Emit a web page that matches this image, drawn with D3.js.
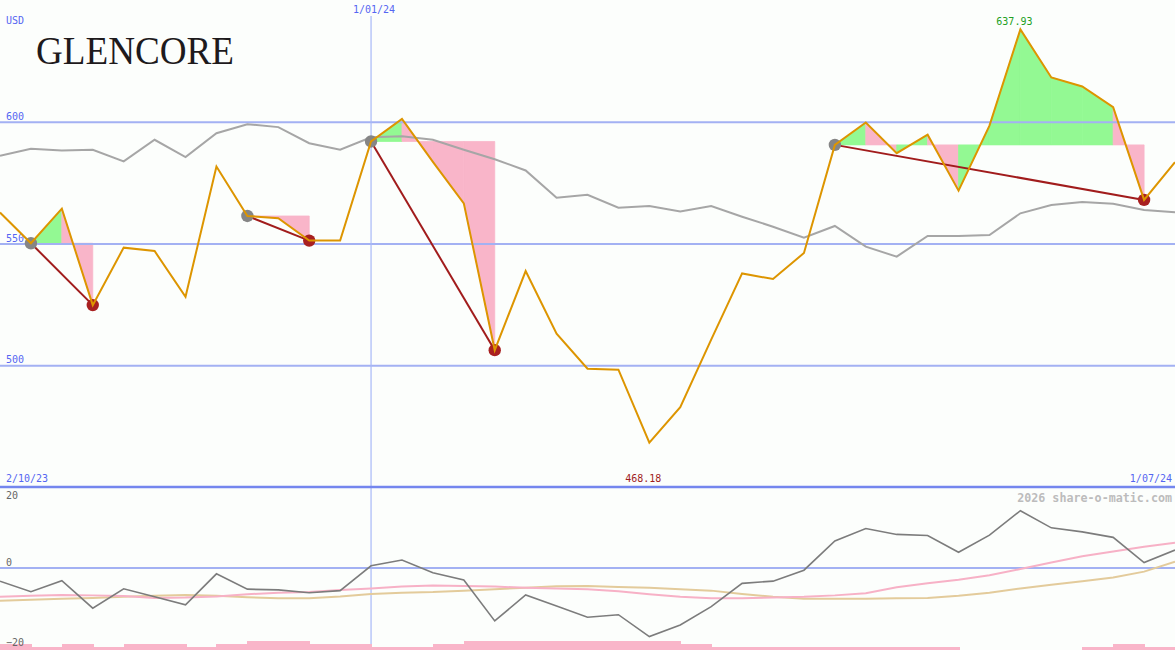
<!DOCTYPE html>
<html>
<head>
<meta charset="utf-8">
<script src="https://cdn.jsdelivr.net/npm/d3@7/dist/d3.min.js"></script>
<style>
  html, body { margin: 0; padding: 0; background: #fcfefc; }
  svg { display: block; }
</style>
</head>
<body>
<svg id="chart" width="1175" height="650"></svg>
<script>
// ---------- data ----------
const firstWeek = "2023-10-09";
const lastWeek = "2024-07-01";
const markerDate = "2024-01-01";
const markerLabel = "1/01/24";
const startLabel = "2/10/23";
const endLabel = "1/07/24";
const currency = "USD";
const company = "GLENCORE";
const watermark = "2026 share-o-matic.com";

const priceTicks = [600, 550, 500];
const oscTicks = [20, 0, -20];

// weekly close (orange)
const price = [562.7, 550.1, 564.3, 524.7, 548.3, 546.9, 528.1, 581.6, 561.3, 560.4,
               551.2, 551.2, 591.9, 601.2, 583.5, 566.5, 506.2, 538.7, 513.0, 498.6,
               498.2, 468.18, 482.8, 510.5, 537.7, 535.4, 546.1, 590.5, 599.7, 587.1,
               594.7, 571.7, 598.4, 637.93, 618.2, 614.5, 606.0, 567.9, 583.4];
// moving average (grey)
const average = [586.0, 588.9, 588.2, 588.5, 583.7, 592.6, 585.5, 595.3, 599.0, 597.8,
                 591.2, 588.5, 593.6, 594.0, 592.6, 588.5, 584.6, 580.0, 568.8, 570.0,
                 564.7, 565.4, 563.1, 565.4, 561.0, 556.9, 552.4, 557.2, 548.7, 544.6,
                 553.1, 553.1, 553.5, 562.4, 565.8, 567.0, 566.3, 563.8, 562.8];
// signal segments (start index, end index)
const signalStart = [1, 8, 12, 27];
const signalEnd = [3, 10, 16, 37];

// lower panel oscillator
const momentum = [-3.6, -6.5, -3.5, -11.0, -5.7, -7.9, -10.1, -1.6, -5.8, -6.0,
                  -6.8, -6.2, 0.6, 2.2, -1.3, -3.3, -14.5, -7.4, -10.4, -13.5,
                  -12.8, -18.8, -15.6, -10.6, -4.2, -3.6, -0.6, 7.4, 10.8, 9.2,
                  8.9, 4.3, 9.0, 15.7, 11.0, 9.9, 8.4, 1.5, 4.9];
const signalPink = [-7.9, -7.6, -7.4, -7.5, -7.7, -8.2, -8.1, -7.8, -7.2, -6.8,
                    -6.6, -6.0, -5.6, -5.1, -4.8, -4.9, -5.1, -5.4, -5.6, -5.8,
                    -6.4, -7.2, -7.9, -8.3, -8.3, -8.1, -7.9, -7.5, -6.9, -5.3,
                    -4.2, -3.2, -2.0, -0.3, 1.5, 3.2, 4.5, 5.8, 6.9];
const signalTan = [-9.0, -8.7, -8.4, -8.2, -7.9, -7.6, -7.4, -7.6, -8.0, -8.3,
                   -8.3, -7.8, -7.1, -6.8, -6.6, -6.2, -5.8, -5.4, -5.0, -4.9,
                   -5.2, -5.4, -5.8, -6.2, -7.1, -7.9, -8.4, -8.4, -8.4, -8.3,
                   -8.2, -7.6, -6.8, -5.6, -4.6, -3.6, -2.6, -1.0, 1.7];
// weekly histogram levels (one per interval)
const volumeLevel = [2, 1, 2, 1, 2, 2, 1, 2, 3, 3,
                     2, 2, 1, 1, 2, 3, 3, 3, 3, 3,
                     3, 3, 2, 1, 1, 1, 1, 1, 1, 1,
                     1, 0, 0, 0, 0, 1, 2, 1];

// ---------- setup ----------
const W = 1175, H = 650;
const svg = d3.select("#chart");
const parse = d3.timeParse("%Y-%m-%d");
const t0 = parse(firstWeek);
const dates = price.map((_, i) => d3.timeDay.offset(t0, 7 * i));

const x = d3.scaleTime().domain([t0, parse(lastWeek)]).range([0, W]);
const y = d3.scaleLinear().domain([450, 650]).range([487, 0]);
const yo = d3.scaleLinear().domain([-20, 20]).range([641, 495]);
const yv = d3.scaleLinear().domain([0, 3]).range([650, 641]);

const mono = "'DejaVu Sans Mono', 'Liberation Mono', monospace";
const gridColor = "#a3b1f3";
const blueText = "#5566f2";
const green = "#93f993";
const pink = "#f9b5c9";

svg.append("rect").attr("width", W).attr("height", H).attr("fill", "#fcfefc");

// ---------- main panel fills ----------
const gFill = svg.append("g");
signalStart.forEach((s, k) => {
  const e = signalEnd[k];
  const ref = price[s];
  for (let i = s; i < e; i++) {
    const pts = [
      [x(dates[i]), y(price[i])],
      [x(dates[i + 1]), y(price[i + 1])],
      [x(dates[i + 1]), y(ref)],
      [x(dates[i]), y(ref)]
    ];
    const c = price[i + 1] >= ref ? green : pink;
    gFill.append("polygon")
      .attr("points", pts.map(p => p.join(",")).join(" "))
      .attr("fill", c).attr("stroke", c).attr("stroke-width", 0.8);
  }
});

// ---------- grid ----------
const yAxis = d3.axisLeft(y).tickValues(priceTicks).tickSize(-W).tickFormat("");
const gy = svg.append("g").call(yAxis);
gy.select(".domain").remove();
gy.selectAll("line").attr("stroke", gridColor).attr("stroke-width", 2).attr("x1", 0).attr("x2", W);

priceTicks.forEach(v => {
  svg.append("text").attr("x", 6).attr("y", y(v) - 2)
    .attr("font-family", mono).attr("font-size", 10).attr("fill", blueText).text(v);
});
svg.append("text").attr("x", 6).attr("y", 24)
  .attr("font-family", mono).attr("font-size", 10).attr("fill", blueText).text(currency);

// vertical marker
const mx = x(parse(markerDate));
svg.append("line").attr("x1", mx).attr("x2", mx).attr("y1", 16).attr("y2", H)
  .attr("stroke", "#a8b8f8").attr("stroke-width", 1.2);
svg.append("text").attr("x", mx + 3).attr("y", 13).attr("text-anchor", "middle")
  .attr("font-family", mono).attr("font-size", 10).attr("fill", blueText).text(markerLabel);

// separator
svg.append("line").attr("x1", 0).attr("x2", W).attr("y1", 487).attr("y2", 487)
  .attr("stroke", "#7486ee").attr("stroke-width", 2.5);

// ---------- lines ----------
const line = d3.line().x((d, i) => x(dates[i])).y(d => y(d));
svg.append("path").datum(average).attr("d", line)
  .attr("fill", "none").attr("stroke", "#a6a6a6").attr("stroke-width", 2);

// trend lines
signalStart.forEach((s, k) => {
  const e = signalEnd[k];
  svg.append("line")
    .attr("x1", x(dates[s])).attr("y1", y(price[s]))
    .attr("x2", x(dates[e])).attr("y2", y(price[e]))
    .attr("stroke", "#a11c1c").attr("stroke-width", 2);
});

// dots
signalStart.forEach((s, k) => {
  const e = signalEnd[k];
  svg.append("circle").attr("cx", x(dates[s])).attr("cy", y(price[s])).attr("r", 6.2)
    .attr("fill", "#858585");
  svg.append("circle").attr("cx", x(dates[e])).attr("cy", y(price[e])).attr("r", 6.2)
    .attr("fill", "#a82020");
});

svg.append("path").datum(price).attr("d", line)
  .attr("fill", "none").attr("stroke", "#dd9500").attr("stroke-width", 2)
  .attr("stroke-linejoin", "miter");

// logo
svg.append("text").attr("x", 36).attr("y", 64)
  .attr("font-family", "'Liberation Serif', 'DejaVu Serif', serif")
  .attr("font-size", 41).attr("fill", "#1e1a1c")
  .attr("textLength", 198).attr("lengthAdjust", "spacingAndGlyphs")
  .text(company);

// extremes
const iMax = d3.maxIndex(price), iMin = d3.minIndex(price);
svg.append("text").attr("x", x(dates[iMax]) - 6).attr("y", 25).attr("text-anchor", "middle")
  .attr("font-family", mono).attr("font-size", 10).attr("fill", "#22a022")
  .text(d3.format(".2f")(price[iMax]));
svg.append("text").attr("x", x(dates[iMin]) - 6).attr("y", 482).attr("text-anchor", "middle")
  .attr("font-family", mono).attr("font-size", 10).attr("fill", "#a01c1c")
  .text(d3.format(".2f")(price[iMin]));
svg.append("text").attr("x", 6).attr("y", 482)
  .attr("font-family", mono).attr("font-size", 10).attr("fill", blueText).text(startLabel);
svg.append("text").attr("x", W - 3).attr("y", 482).attr("text-anchor", "end")
  .attr("font-family", mono).attr("font-size", 10).attr("fill", blueText).text(endLabel);

// ---------- lower panel ----------
// histogram
const gBars = svg.append("g").attr("shape-rendering", "crispEdges");
volumeLevel.forEach((v, i) => {
  if (v <= 0) return;
  gBars.append("rect")
    .attr("x", Math.round(x(dates[i]))).attr("width", Math.round(x(dates[i + 1])) - Math.round(x(dates[i])) + 0.5)
    .attr("y", yv(v)).attr("height", yv(0) - yv(v))
    .attr("fill", pink);
});

svg.append("line").attr("x1", 0).attr("x2", W).attr("y1", yo(0)).attr("y2", yo(0))
  .attr("stroke", gridColor).attr("stroke-width", 2);

oscTicks.forEach(v => {
  svg.append("text").attr("x", 6).attr("y", yo(v) - 2 + (v === -20 ? 7 : 0) + (v === 20 ? 6 : 0))
    .attr("font-family", mono).attr("font-size", 10).attr("fill", "#666").text(v === -20 ? "\u221220" : v);
});

svg.append("text").attr("x", W - 3).attr("y", 502).attr("text-anchor", "end")
  .attr("font-family", mono).attr("font-size", 11.7).attr("font-weight", "bold")
  .attr("fill", "#bcbcbc").text(watermark);

const oline = d3.line().x((d, i) => x(dates[i])).y(d => yo(d));
svg.append("path").datum(signalTan).attr("d", oline)
  .attr("fill", "none").attr("stroke", "#e3cb9b").attr("stroke-width", 2);
svg.append("path").datum(signalPink).attr("d", oline)
  .attr("fill", "none").attr("stroke", "#f7b1c6").attr("stroke-width", 2);
svg.append("path").datum(momentum).attr("d", oline)
  .attr("fill", "none").attr("stroke", "#7c7c7c").attr("stroke-width", 1.6);
</script>
</body>
</html>
